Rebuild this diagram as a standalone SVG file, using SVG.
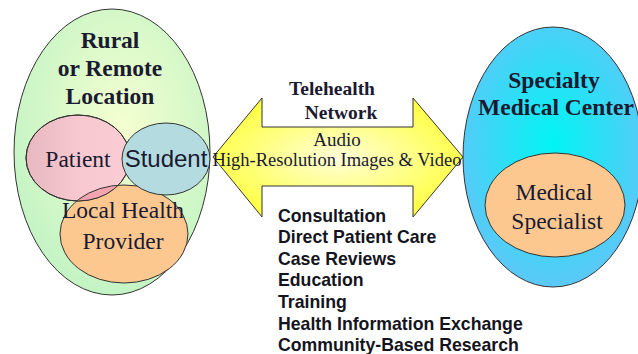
<svg xmlns="http://www.w3.org/2000/svg" width="638" height="354" viewBox="0 0 638 354">
<defs>
<radialGradient id="gGreen" cx="0.55" cy="0.4" r="0.6">
<stop offset="0" stop-color="#f4ffd0"/>
<stop offset="1" stop-color="#c4f4c4"/>
</radialGradient>
<linearGradient id="gPink" x1="0" y1="0" x2="1" y2="0">
<stop offset="0" stop-color="#e8b8c0"/>
<stop offset="0.5" stop-color="#f8c8d0"/>
<stop offset="1" stop-color="#fcccd4"/>
</linearGradient>
<radialGradient id="gYellow" cx="0.5" cy="0.5" r="0.55">
<stop offset="0" stop-color="#ffffd8"/>
<stop offset="1" stop-color="#ffff40"/>
</radialGradient>
<radialGradient id="gBlue" cx="0.5" cy="0.45" r="0.55">
<stop offset="0" stop-color="#00f4f4"/>
<stop offset="1" stop-color="#5cc8f8"/>
</radialGradient>
<clipPath id="cPatient"><ellipse cx="78" cy="158" rx="52" ry="43"/></clipPath>
<style>
.ol{stroke:#333;stroke-width:1}
.hd{font-family:'Liberation Serif','Times New Roman','DejaVu Serif',serif;font-weight:bold;font-size:23.5px;fill:#1a1a30;text-anchor:middle}
.tn{font-family:'Liberation Serif','Times New Roman','DejaVu Serif',serif;font-weight:bold;font-size:19.5px;fill:#1a1a30;text-anchor:middle}
.sr{font-family:'Liberation Serif','Times New Roman','DejaVu Serif',serif;font-size:23.5px;fill:#1a1a30;text-anchor:middle}
.ar{font-family:'Liberation Serif','Times New Roman','DejaVu Serif',serif;font-size:18.5px;fill:#1a1a30;text-anchor:middle}
.au{font-size:19px}
.ls{font-family:'Liberation Sans',Arial,sans-serif;font-weight:bold;font-size:17.7px;fill:#141420}
.st{font-family:'Liberation Sans',Arial,sans-serif;font-size:24px;fill:#1a1a30;text-anchor:middle}
</style>
</defs>
<rect width="638" height="354" fill="#ffffff"/>
<g id="rural">
<ellipse cx="112" cy="152" rx="98" ry="143" fill="url(#gGreen)" class="ol"/>
<text class="hd" x="110" y="48">Rural</text>
<text class="hd" x="110" y="76">or Remote</text>
<text class="hd" x="110" y="104">Location</text>
</g>
<g id="provider">
<ellipse cx="124" cy="234" rx="64" ry="49" fill="#fcc890" class="ol"/>
</g>
<g id="patient">
<ellipse cx="78" cy="158" rx="52" ry="43" fill="url(#gPink)" class="ol"/>
<ellipse cx="124" cy="234" rx="64" ry="49" fill="#f6a4b0" clip-path="url(#cPatient)"/>
<ellipse cx="124" cy="234" rx="64" ry="49" fill="none" class="ol" clip-path="url(#cPatient)"/>
<ellipse cx="78" cy="158" rx="52" ry="43" fill="none" class="ol"/>
<text class="sr" x="78" y="167">Patient</text>
</g>
<g id="student">
<ellipse cx="166" cy="159" rx="44" ry="36" fill="#b4dce0" class="ol"/>
<text class="st" x="166" y="167">Student</text>
</g>
<g id="provider-label">
<text class="sr" x="123" y="218">Local Health</text>
<text class="sr" x="123" y="249">Provider</text>
</g>
<g id="connectors">
<path d="M213,157 L262,98 L262,127 L413,127 L413,98 L463,157 L413,217 L413,186 L262,186 L262,217 Z" fill="url(#gYellow)" class="ol"/>
<text class="tn" x="332" y="95">Telehealth</text>
<text class="tn" x="341" y="119">Network</text>
<text class="ar au" x="337" y="146">Audio</text>
<text class="ar" x="337" y="166">High-Resolution Images &amp; Video</text>
</g>
<g id="specialty">
<ellipse cx="553" cy="157" rx="90" ry="130" fill="url(#gBlue)" class="ol"/>
<text class="hd" x="554" y="88">Specialty</text>
<text class="hd" x="556" y="115">Medical Center</text>
</g>
<g id="specialist">
<ellipse cx="555" cy="205" rx="70" ry="52" fill="#fcc890" class="ol"/>
<text class="sr" x="554" y="200">Medical</text>
<text class="sr" x="557" y="229">Specialist</text>
</g>
<g id="services">
<text class="ls" x="278" y="222">Consultation</text>
<text class="ls" x="278" y="243">Direct Patient Care</text>
<text class="ls" x="278" y="265">Case Reviews</text>
<text class="ls" x="278" y="286">Education</text>
<text class="ls" x="278" y="308">Training</text>
<text class="ls" x="278" y="330">Health Information Exchange</text>
<text class="ls" x="278" y="351">Community-Based Research</text>
</g>
</svg>
